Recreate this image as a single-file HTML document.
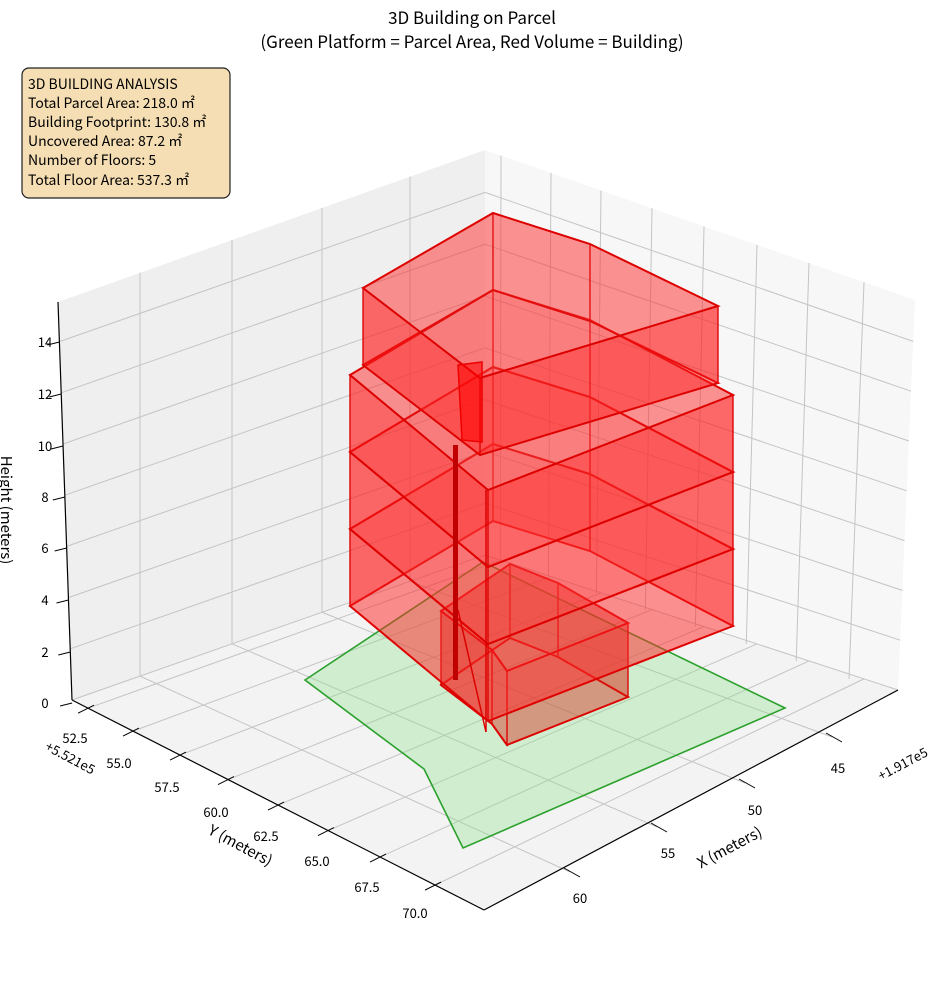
<!DOCTYPE html>
<html><head><meta charset="utf-8"><style>
html,body{margin:0;padding:0;background:#fff}
svg{display:block}
text{font-family:"Noto Sans CJK JP","Liberation Sans",sans-serif;fill:#000}
</style></head><body>
<svg id="s" width="944" height="992" viewBox="0 0 944 992" xmlns="http://www.w3.org/2000/svg">
<rect width="944" height="992" fill="#fff"/>
<polygon points="58,302 485,150 485,555 72,700" fill="#efefef"/>
<polygon points="485,150 915,300 898,690 485,555" fill="#f7f7f7"/>
<polygon points="72,700 485,555 898,690 484,910" fill="#f3f3f3"/>
<g id="grid" stroke="#c4c4c4" stroke-width="1" fill="none"></g>
<polygon points="305,680 483,562 785,708 463,848 424,769" fill="rgba(144,225,144,0.35)" stroke="#2ca02c" stroke-width="1.6"/>
<g id="bld"></g>
<polygon points="458,365 482,362 482,442 462,440" fill="rgba(255,0,0,0.55)" stroke="#e00" stroke-width="1.5"/>
<rect x="453" y="445" width="5" height="235" fill="#c00000"/>
<g stroke="#000" stroke-width="1.2" fill="none">
<line x1="58" y1="302" x2="72" y2="700"/>
<line x1="72" y1="700" x2="484" y2="910"/>
<line x1="484" y1="910" x2="898" y2="690"/>
</g>
<g id="ticks" stroke="#000" stroke-width="1"></g>
<g font-size="13" text-anchor="middle">
<text x="45" y="347">14</text><text x="45" y="399">12</text><text x="45" y="451">10</text>
<text x="45" y="502">8</text><text x="45" y="553">6</text><text x="45" y="605">4</text>
<text x="45" y="657">2</text><text x="45" y="708">0</text>
<text x="75" y="743">52.5</text><text x="119" y="768">55.0</text><text x="167" y="792">57.5</text>
<text x="216" y="817">60.0</text><text x="266" y="841">62.5</text><text x="317" y="866">65.0</text>
<text x="367" y="892">67.5</text><text x="415" y="918">70.0</text>
<text x="838" y="773">45</text><text x="755" y="815">50</text><text x="668" y="858">55</text><text x="580" y="903">60</text>
<text transform="translate(68,762) rotate(28)">+5.521e5</text>
<text transform="translate(905,768) rotate(-28)">+1.917e5</text>
</g>
<g font-size="15" text-anchor="middle">
<text transform="translate(238,850) rotate(28)">Y (meters)</text>
<text transform="translate(732,852) rotate(-28)">X (meters)</text>
<text transform="translate(1,510) rotate(90)">Height (meters)</text>
</g>
<g font-size="17" text-anchor="middle">
<text x="472" y="24">3D Building on Parcel</text>
<text x="472" y="48">(Green Platform = Parcel Area, Red Volume = Building)</text>
</g>
<rect x="22" y="68" width="208" height="130" rx="7" fill="#f5deb3" stroke="#222" stroke-width="1.2"/>
<g font-size="14">
<text x="28" y="89">3D BUILDING ANALYSIS</text>
<text x="28" y="108">Total Parcel Area: 218.0 ㎡</text>
<text x="28" y="127">Building Footprint: 130.8 ㎡</text>
<text x="28" y="146">Uncovered Area: 87.2 ㎡</text>
<text x="28" y="165">Number of Floors: 5</text>
<text x="28" y="185">Total Floor Area: 537.3 ㎡</text>
</g>
</svg>
<script>
var NS="http://www.w3.org/2000/svg";
function el(p,t,a){var e=document.createElementNS(NS,t);for(var k in a)e.setAttribute(k,a[k]);p.appendChild(e);return e;}
var g=document.getElementById('grid');
function ln(x1,y1,x2,y2){el(g,'line',{x1:x1,y1:y1,x2:x2,y2:y2});}
[140,232,322,410].forEach(function(x){var f=(x-58)/427;var yt=302-152*f;var yb=700-145*(x-72)/413;ln(x,yt,x,yb);});
[501,551,601,652,704,757,809,864].forEach(function(x){var yt=150+150*(x-485)/430;var yb=555+135*(x-485)/413;ln(x,yt,x-(x-485)/430*17,yb);});
for(var z=0;z<=14;z+=2){var xl=72-(z/15.64)*14, yl=700-25.6*z, yb=555-25.9*z, xr=898+17*z/15.64, yr=690-24.9*z;ln(xl,yl,485,yb);ln(485,yb,xr,yr);}
var yt=[88,133,180,228,278,328,380,435], yr=[501,551,601,652,704,757,809,864];
for(var i=0;i<8;i++){var x=yt[i],y=700+0.51*(x-72);ln(x,y,yr[i],555+135*(yr[i]-485)/413);}
var xt=[[570,872],[657,827],[745,783],[832,737]], xl=[140,232,322,410];
for(var i=0;i<4;i++){ln(xt[i][0],xt[i][1],xl[i],700-145*(xl[i]-72)/413);}
var t=document.getElementById('ticks');
[342,394,446,497,548,600,652,703].forEach(function(y){var x=72-14*(700-y)/398;el(t,'line',{x1:x-12,y1:y+3,x2:x,y2:y});});
yt.forEach(function(x){var y=700+0.51*(x-72);el(t,'line',{x1:x-10,y1:y+5,x2:x+6,y2:y-3});});
xt.forEach(function(p){el(t,'line',{x1:p[0]-6,y1:p[1]-4,x2:p[0]+10,y2:p[1]+5});});
var b=document.getElementById('bld');
function poly(pts,fill,sw){el(b,'polygon',{points:pts.map(function(p){return p.join(',')}).join(' '),fill:fill,stroke:'#dd0000','stroke-width':sw||1.2});}
function sh(pts,dy){return pts.map(function(p){return [p[0],p[1]+dy]});}
function floor(top,h,wf,sf){
 var bot=sh(top,h);var n=top.length;
 poly(bot,sf,2);
 for(var i=0;i<n;i++){var j=(i+1)%n;poly([top[i],top[j],bot[j],bot[i]],wf,1.2);}
 poly(top,sf,2);
}
var W='rgba(255,30,30,0.42)', S='rgba(255,80,80,0.15)';
floor([[441,611],[510,564],[558,583],[628,623],[507,671],[492,650]],74,'rgba(215,50,30,0.32)','rgba(215,60,40,0.2)');
var base=[[350,375],[493,290],[590,320],[733,395],[488,490]];
floor(sh(base,154),77,W,S);
floor(sh(base,77),77,W,S);
floor(base,77,W,S);
floor([[363,288],[493,213],[590,244],[718,306],[480,378]],77,W,S);
el(b,'line',{x1:486,y1:490,x2:486,y2:732,stroke:'#dd0000','stroke-width':1.5});
el(b,'line',{x1:458,y1:610,x2:486,y2:732,stroke:'#dd0000','stroke-width':1.5});
</script>
</body></html>
